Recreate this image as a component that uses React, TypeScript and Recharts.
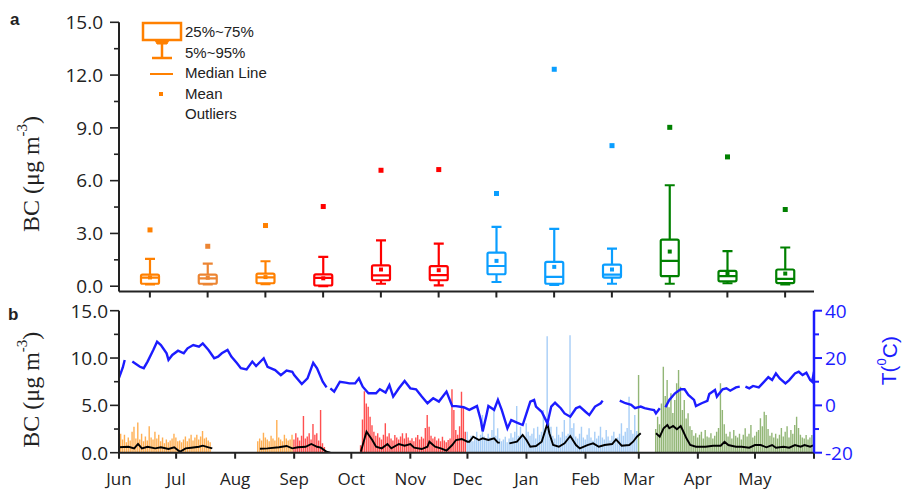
import React from "react";
import { Bar, Cell, ComposedChart, Legend, Line, XAxis, YAxis } from "recharts";

// ---- monthly box statistics (BC, µg m-3) ----
const months = ["Jun", "Jul", "Aug", "Sep", "Oct", "Nov", "Dec", "Jan", "Feb", "Mar", "Apr", "May"];
const p5 = [0.1, 0.1, 0.12, 0.0, 0.14, 0.05, 0.24, 0.07, 0.14, 0.14, 0.17, 0.1];
const p25 = [0.14, 0.14, 0.17, 0.04, 0.34, 0.34, 0.68, 0.14, 0.49, 0.57, 0.28, 0.18];
const medians = [0.49, 0.45, 0.5, 0.47, 0.62, 0.63, 1.15, 0.53, 0.66, 1.44, 0.57, 0.42];
const p75 = [0.66, 0.66, 0.72, 0.67, 1.19, 1.14, 1.91, 1.38, 1.23, 2.65, 0.87, 0.95];
const p95 = [1.55, 1.28, 1.42, 1.67, 2.61, 2.42, 3.37, 3.26, 2.14, 5.74, 1.99, 2.2];
const means = [0.5, 0.48, 0.52, 0.45, 0.95, 0.91, 1.44, 1.1, 0.95, 1.97, 0.72, 0.72];
const maxima = [3.2, 2.27, 3.45, 4.53, 6.59, 6.63, 5.27, 12.33, 7.99, 9.03, 7.35, 4.36];

const monthColors = ["#ff8000", "#ec8533", "#ff8000", "#ff0000", "#ff0000", "#ff0000", "#0a9eff", "#0a9eff", "#0a9eff", "#008000", "#008000", "#008000"];

const boxRows = months.map((month, i) => ({
  month,
  span: [p5[i], p95[i]],
  p5: p5[i],
  p25: p25[i],
  median: medians[i],
  p75: p75[i],
  p95: p95[i],
  mean: means[i],
  max: maxima[i],
}));

// ---- hourly BC peaks, one value per day, per continuous record ----
const bcJunJul = [1.2, 2.0, 1.4, 1.9, 1.1, 1.6, 1.3, 2.2, 2.75, 1.5, 3.2, 1.4, 2.0, 1.2, 1.7, 1.3, 2.8, 1.6, 1.4, 2.2, 1.5, 1.9, 1.2, 1.6, 1.0, 1.4, 1.1, 1.3, 1.5, 2.0, 1.6, 1.2, 1.3, 1.1, 1.4, 1.7, 1.2, 1.5, 1.9, 1.3, 1.6, 1.9, 1.4, 1.7, 2.3, 1.5, 1.6, 1.3, 1.1];
const bcAug = [1.2, 1.5, 1.3, 2.1, 1.6, 1.4, 1.2, 1.8, 1.5, 1.3, 3.45, 1.6, 1.4, 1.2, 1.9, 1.5, 1.3, 1.4, 1.9];
const bcSep = [1.4, 2.05, 1.6, 1.3, 1.8, 3.87, 1.5, 1.7, 2.05, 1.4, 3.03, 1.9, 2.05, 1.3, 4.5, 1.0, 0.6];
const bcOctNov = [0.8, 3.5, 6.5, 5.2, 4.86, 3.8, 2.9, 2.2, 1.8, 2.05, 1.6, 1.4, 1.9, 3.1, 1.7, 2.05, 1.5, 1.3, 1.87, 1.6, 1.4, 1.7, 2.05, 1.5, 2.05, 1.6, 1.3, 1.52, 1.2, 1.6, 1.87, 1.4, 1.69, 1.5, 2.6, 3.98, 2.75, 1.8, 1.5, 1.69, 1.3, 1.5, 1.2, 1.69, 1.3, 1.1, 1.34, 1.5, 6.69, 4.5, 2.4, 1.9, 2.8, 6.44, 4.86, 2.2];
const bcWinter = [2.2, 1.4, 1.8, 1.2, 1.6, 2.2, 1.5, 1.9, 3.98, 1.7, 1.4, 2.0, 1.6, 2.4, 4.5, 1.8, 2.58, 1.5, 1.2, 1.4, 1.69, 1.1, 1.5, 2.05, 1.6, 2.2, 4.93, 1.8, 2.75, 2.0, 1.6, 3.1, 2.2, 1.8, 2.0, 2.58, 1.5, 2.75, 1.9, 2.2, 4.5, 2.6, 12.3, 3.2, 2.75, 1.8, 1.5, 2.75, 1.9, 1.6, 2.2, 3.45, 1.8, 2.0, 12.4, 2.6, 3.1, 1.7, 1.5, 2.0, 2.75, 1.6, 1.4, 1.9, 2.58, 1.6, 1.3, 2.2, 1.5, 1.8, 2.75, 1.6, 1.4, 2.4, 1.7, 1.3, 1.8, 2.2, 1.5, 1.6, 2.0, 3.1, 1.8, 2.2, 2.6, 5.9, 2.4, 2.0, 3.98, 2.3];
const bcMarFirst = [8.2];
const bcSpring = [2.5, 3.8, 3.0, 5.2, 9.08, 6.0, 7.68, 4.8, 6.27, 4.2, 5.56, 7.33, 8.73, 6.97, 4.5, 5.56, 3.6, 4.16, 2.8, 2.4, 1.8, 2.05, 1.6, 1.9, 2.2, 1.5, 2.4, 1.7, 1.6, 2.05, 1.5, 1.8, 2.2, 2.6, 7.33, 4.5, 3.0, 2.0, 1.7, 2.2, 1.5, 2.4, 1.8, 1.6, 2.0, 1.4, 1.9, 2.58, 1.7, 2.0, 2.92, 1.6, 1.8, 2.2, 2.4, 3.63, 2.8, 4.33, 3.98, 2.5, 1.8, 2.1, 1.6, 2.0, 1.5, 1.9, 2.6, 1.7, 2.2, 2.8, 1.6, 2.4, 2.0, 2.92, 3.8, 2.6, 1.9, 1.6, 1.5, 1.87, 1.4, 1.6, 1.87];
const hourlySegments = [bcJunJul, bcAug, bcSep, bcOctNov, bcWinter, bcMarFirst, bcSpring];
const hourlyStartDays = [0, 73, 92, 127, 183, 273, 282];

// ---- daily mean BC, [day, value], one list per unbroken stretch ----
const meanSegments: [number, number][][] = [
  [[0, 0.57], [5, 0.63], [8, 0.46], [10, 0.92], [12, 0.46], [15, 0.63], [19, 0.46], [22, 0.57], [26, 0.39], [29, 0.57], [32, 0.1], [35, 0.46], [38, 0.53], [42, 0.63], [44, 0.74], [47, 0.57], [49, 0.46]],
  [[74, 0.42], [78, 0.46], [84, 0.57], [88, 0.71], [91, 0.46], [94, 0.57], [98, 0.63], [101, 0.92], [104, 0.63], [106, 0.53], [109, 0.1], [111, 0.0]],
  [[127, 0.1], [129, 1.52], [130, 2.22], [133, 1.34], [135, 0.63], [138, 0.46], [141, 0.92], [143, 0.46], [147, 0.92], [150, 0.74], [153, 0.92], [155, 0.53], [159, 0.39], [162, 0.63], [163, 1.16], [166, 0.63], [169, 0.46], [172, 0.21], [175, 0.81], [177, 1.34], [180, 1.45], [183, 1.16], [184, 1.16], [186, 1.69], [189, 1.34], [191, 1.52], [194, 1.34], [197, 1.52], [199, 1.06], [200, 1.06]],
  [[205, 0.99], [209, 1.16], [212, 1.87], [214, 1.34], [216, 0.63], [219, 0.71], [222, 1.16], [225, 3.1], [226, 2.05], [228, 0.81], [231, 0.63], [234, 0.99], [237, 1.76], [240, 0.81], [242, 0.46], [246, 0.81], [249, 0.99], [252, 0.63], [255, 0.81], [259, 0.92], [261, 1.41], [264, 0.74], [268, 0.81], [270, 1.16], [272, 1.69], [274, 2.05]],
  [[282, 2.05], [284, 1.69], [286, 2.58], [288, 2.92], [289, 2.58], [291, 2.82], [293, 2.47], [295, 2.82], [296, 2.4], [298, 1.52], [300, 0.81], [303, 0.63], [308, 0.63], [312, 0.74], [316, 0.74], [318, 1.16], [320, 0.81], [324, 0.63], [327, 0.63], [331, 0.53], [334, 0.81], [337, 0.81], [340, 0.57], [343, 0.81], [345, 0.53], [349, 0.63], [352, 0.53], [355, 0.81], [358, 0.63], [360, 0.81], [363, 0.63], [365, 0.81]],
];

// ---- air temperature (°C), [day, value], one list per unbroken stretch ----
const tempSegments: [number, number][][] = [
  [[0, 11.6], [2, 16], [3, 19.2]],
  [[7, 18.5], [11, 16.3], [13, 15.7], [15, 18.5], [18, 23.4], [20, 26.9], [22, 25.5], [25, 22.0], [26, 19.2], [28, 21.3], [31, 23.1], [34, 22.0], [36, 24.1], [39, 25.5], [42, 24.8], [44, 26.2], [47, 23.4], [50, 19.9], [52, 20.6], [54, 22], [57, 23.4], [59, 20.6], [62, 17.8], [64, 15.7], [67, 15.2], [70, 18.5], [72, 16.6], [76, 19.9], [78, 16.3], [82, 14.9], [85, 12.8], [88, 14.7], [91, 14.2], [92, 12.8], [96, 9.0], [99, 11.4], [102, 18.0], [104, 15.7], [107, 10], [109, 7.6]],
  [[111, 7.2], [113, 5.8], [116, 10], [119, 9.6], [121, 9.3], [124, 9.3], [126, 11.4], [128, 7.9], [131, 5.1], [135, 5.1], [137, 6.8], [140, 5.4], [142, 8.6], [144, 3.7], [147, 7.2], [150, 10.3], [153, 7.2], [156, 6.8], [159, 3.7], [162, 0.9], [165, 3.0], [168, 1.6], [172, 5.8], [175, -0.3], [177, -0.3], [181, -0.8], [184, -1.9], [188, -0.3], [190, -6.2], [191, -11], [193, -4.1], [194, -0.3], [197, -1.9], [199, 2.3], [201, -1.9], [204, -9.7], [206, -6.2], [209, -7.3], [212, -8.3], [214, -3.4], [216, 1.6], [218, 2.3], [219, -0.5], [222, -2.7], [225, -7.6], [227, -0.5], [229, 1.1], [232, -1.2], [234, -3.4], [237, -4.8], [240, -1.2], [242, -0.5], [245, -2.7], [247, -4.1], [250, -0.5], [253, 0.9], [254, 2.0]],
  [[263, 2.0], [266, 0.9], [269, 0.2], [271, -1.2], [274, -0.5], [276, -1.2], [279, -1.7], [281, -2.0], [282, -3.4], [284, -1.2]],
  [[287, -0.8], [289, 2.3], [292, 5.1], [295, 6.8], [297, 6.8], [299, 4.4], [302, 2.3], [303, -0.3], [306, 0.9], [309, 1.9], [310, 4.8], [313, 6.5], [314, 3.7], [317, 6.8], [319, 7.2], [321, 6.2], [324, 7.6], [326, 7.9]],
  [[329, 7.9], [331, 7.2], [333, 8.2], [336, 7.6], [338, 9.3], [341, 11.9], [343, 10.7], [345, 13.5], [347, 11.4], [350, 9.3], [352, 10.7], [355, 13.5], [357, 14.2], [359, 12.8], [361, 13.8], [363, 10.7], [364, 10.0], [365, 14.2]],
];

// ---- axes ----
const monthStartDays = [0, 30, 61, 92, 122, 153, 183, 214, 245, 273, 304, 334, 365];
const bcTicksTop = [0, 1.5, 3, 4.5, 6, 7.5, 9, 10.5, 12, 13.5, 15];
const bcTicksBottom = [0, 2.5, 5, 7.5, 10, 12.5, 15];
const tempTicks = [-20, -10, 0, 10, 20, 30, 40];

const seasonStartDays = [0, 92, 183, 273];
const seasonColors = ["#ff9419", "#ff1414", "#4f9ef0", "#4a861a"];
const seasonOpacity = [0.75, 0.75, 0.5, 0.6];
const seasonOf = (day: number) => seasonStartDays.filter((d) => day >= d).length - 1;

// one row per day, holding every series that has a value that day
const dayRows: Record<string, number>[] = Array.from({ length: 366 }, (_, day) => ({ day }));
hourlySegments.forEach((seg, k) =>
  seg.forEach((v, i) => {
    dayRows[hourlyStartDays[k] + i].bc = v;
  })
);
meanSegments.forEach((seg, k) =>
  seg.forEach(([d, v]) => {
    dayRows[d][`m${k}`] = v;
  })
);
tempSegments.forEach((seg, k) =>
  seg.forEach(([d, v]) => {
    dayRows[d][`t${k}`] = v;
  })
);

const tickFont = "'Open Sans', 'Liberation Sans', sans-serif";
const legendFont = "'Liberation Sans', Arial, sans-serif";
const serifFont = "'Liberation Serif', 'Times New Roman', serif";
const ink = "#222";
const tempBlue = "#1c1cff";

const isMajor = (v: number, step: number) => Math.abs(v / step - Math.round(v / step)) < 1e-6;

const leftTick = (step: number, gap: number) => (props: any) => {
  const { x, y, payload } = props;
  const major = isMajor(payload.value, step);
  return (
    <g>
      <line x1={x - (major ? 9 : 5)} x2={x} y1={y} y2={y} stroke={ink} strokeWidth={1.6} />
      {major && (
        <text x={x - gap} y={y} dy="0.36em" textAnchor="end" fontFamily={tickFont} fontSize={19} fill={ink}>
          {payload.value.toFixed(1)}
        </text>
      )}
    </g>
  );
};

const tempTick = (props: any) => {
  const { x, y, payload } = props;
  const major = isMajor(payload.value, 20);
  return (
    <g>
      <line x1={x} x2={x + (major ? 8 : 5)} y1={y} y2={y} stroke={tempBlue} strokeWidth={2} />
      {major && (
        <text x={x + 11} y={y} dy="0.36em" textAnchor="start" fontFamily={tickFont} fontSize={19} fill={tempBlue}>
          {payload.value}
        </text>
      )}
    </g>
  );
};

const boxTick = (props: any) => {
  const { x, y } = props;
  return <line x1={x} x2={x} y1={y} y2={y + 6} stroke={ink} strokeWidth={2} />;
};

const monthTick = (props: any) => {
  const { x, y, payload } = props;
  const idx = monthStartDays.indexOf(payload.value);
  return (
    <g>
      <line x1={x} x2={x} y1={y} y2={y + 6} stroke={ink} strokeWidth={2} />
      {idx < months.length && (
        <text x={x} y={y + 26} dy="0.36em" textAnchor="middle" fontFamily={tickFont} fontSize={17} fill={ink}>
          {months[idx]}
        </text>
      )}
    </g>
  );
};

const bcTitle = (shiftY: number) => (props: any) => {
  const vb = props.viewBox;
  const cx = vb.x + 31;
  const cy = vb.y + vb.height / 2 + shiftY;
  return (
    <text x={cx} y={cy} transform={`rotate(-90 ${cx} ${cy})`} textAnchor="middle" dominantBaseline="central" fontFamily={serifFont} fontSize={24} fill={ink}>
      BC (μg m<tspan dy={-9} fontSize={15}>-3</tspan>
      <tspan dy={9}>)</tspan>
    </text>
  );
};

const tempTitle = (props: any) => {
  const vb = props.viewBox;
  const cx = vb.x + 75;
  const cy = vb.y + 50;
  return (
    <text x={cx} y={cy} transform={`rotate(-90 ${cx} ${cy})`} textAnchor="middle" dominantBaseline="central" fontFamily={legendFont} fontSize={21} fill={tempBlue}>
      T(<tspan dy={-8} fontSize={13}>0</tspan>
      <tspan dy={8}>C)</tspan>
    </text>
  );
};

// box, whiskers, median, mean and max drawn from the bar's 5–95 % span
function BoxShape(props: any) {
  const { x, y, width, height, payload } = props;
  const lo = payload.p5;
  const hi = payload.p95;
  const py = (v: number) => y + (height * (hi - v)) / (hi - lo);
  const cx = x + width / 2;
  const color = monthColors[months.indexOf(payload.month)];
  const cap = 5;
  return (
    <g stroke={color} strokeWidth={2.2} fill="none">
      <line x1={cx} x2={cx} y1={py(hi)} y2={py(payload.p75)} />
      <line x1={cx} x2={cx} y1={py(payload.p25)} y2={py(lo)} />
      <line x1={cx - cap} x2={cx + cap} y1={py(hi)} y2={py(hi)} />
      <line x1={cx - cap} x2={cx + cap} y1={py(lo)} y2={py(lo)} />
      <rect x={x} y={py(payload.p75)} width={width} height={py(payload.p25) - py(payload.p75)} rx={1.5} />
      <line x1={x} x2={x + width} y1={py(payload.median)} y2={py(payload.median)} />
      <rect x={cx - 2} y={py(payload.mean) - 2} width={4} height={4} fill={color} stroke="none" />
      <rect x={cx - 2.5} y={py(payload.max) - 2.5} width={5} height={5} fill={color} stroke="none" />
    </g>
  );
}

const legendItems = ["25%~75%", "5%~95%", "Median Line", "Mean", "Outliers"];

const BoxLegend = () => (
  <svg width={170} height={110}>
    <g stroke="#ff8000" strokeWidth={2.5} fill="none">
      <rect x={5} y={5} width={38} height={17} />
      <path d="M17 22 L31 22 L29 26 L19 26 Z" fill="#ff8000" strokeWidth={1} />
      <line x1={24} x2={24} y1={26} y2={40} />
      <line x1={14} x2={34} y1={40} y2={40} />
      <line x1={12} x2={35} y1={56} y2={56} strokeWidth={2} />
    </g>
    <rect x={21} y={74} width={4} height={4} fill="#ff8000" />
    {legendItems.map((t, i) => (
      <text key={t} x={47} y={14 + i * 20.5} dy="0.36em" fontFamily={legendFont} fontSize={15} fill={ink}>
        {t}
      </text>
    ))}
  </svg>
);

export default function App() {
  return (
    <div style={{ position: "absolute", left: 0, top: 0, width: 903, height: 490, background: "#fff", overflow: "hidden" }}>
      <div style={{ position: "absolute", left: 0, top: 0 }}>
        <ComposedChart width={903} height={300} data={boxRows} margin={{ top: 22.3, right: 89, bottom: 0, left: 0 }}>
          <XAxis
            dataKey="month"
            type="category"
            height={8.5}
            padding={{ left: 2, right: 0 }}
            axisLine={{ stroke: ink, strokeWidth: 2 }}
            tickLine={false}
            tickSize={0}
            tickMargin={0}
            tick={boxTick}
            interval={0}
          />
          <YAxis
            type="number"
            domain={[-0.3, 15]}
            ticks={bcTicksTop}
            width={119}
            allowDataOverflow
            axisLine={{ stroke: ink, strokeWidth: 2 }}
            tickLine={false}
            tickSize={0}
            tickMargin={0}
            tick={leftTick(3, 16)}
            interval={0}
            label={{ content: bcTitle(17) }}
          />
          <Legend layout="horizontal" verticalAlign="middle" align="center" content={BoxLegend} wrapperStyle={{ left: 138, top: 18, width: 170, height: 110 }} />
          <Bar dataKey="span" barSize={18} shape={BoxShape} isAnimationActive={false} legendType="none" />
        </ComposedChart>
      </div>

      <div style={{ position: "absolute", left: 0, top: 290 }}>
        <ComposedChart width={903} height={200} data={dayRows} margin={{ top: 20.7, right: 0, bottom: 0, left: 0 }}>
          <XAxis
            dataKey="day"
            type="number"
            domain={[0, 365]}
            ticks={monthStartDays}
            height={37.3}
            allowDataOverflow
            axisLine={{ stroke: ink, strokeWidth: 2 }}
            tickLine={false}
            tickSize={0}
            tickMargin={0}
            tick={monthTick}
            interval={0}
          />
          <YAxis
            yAxisId="bc"
            type="number"
            domain={[0, 15]}
            ticks={bcTicksBottom}
            width={119}
            allowDataOverflow
            axisLine={{ stroke: ink, strokeWidth: 2 }}
            tickLine={false}
            tickSize={0}
            tickMargin={0}
            tick={leftTick(5, 11)}
            interval={0}
            label={{ content: bcTitle(8) }}
          />
          <YAxis
            yAxisId="t"
            orientation="right"
            type="number"
            domain={[-20, 40]}
            ticks={tempTicks}
            width={89}
            allowDataOverflow
            axisLine={{ stroke: tempBlue, strokeWidth: 2.5 }}
            tickLine={false}
            tickSize={0}
            tickMargin={0}
            tick={tempTick}
            interval={0}
            label={{ content: tempTitle }}
          />
          <Bar yAxisId="bc" dataKey="bc" barSize={1.4} isAnimationActive={false}>
            {dayRows.map((r) => (
              <Cell key={r.day} fill={seasonColors[seasonOf(r.day)]} fillOpacity={seasonOpacity[seasonOf(r.day)]} />
            ))}
          </Bar>
          {meanSegments.map((_, k) => (
            <Line key={`m${k}`} yAxisId="bc" dataKey={`m${k}`} type="linear" stroke="#000" strokeWidth={1.9} dot={false} connectNulls isAnimationActive={false} />
          ))}
          {tempSegments.map((_, k) => (
            <Line key={`t${k}`} yAxisId="t" dataKey={`t${k}`} type="linear" stroke={tempBlue} strokeWidth={2.4} dot={false} connectNulls isAnimationActive={false} />
          ))}
        </ComposedChart>
      </div>

      <div style={{ position: "absolute", left: 10, top: 10.6, fontFamily: legendFont, fontWeight: 700, fontSize: 17, lineHeight: "17px", color: ink }}>a</div>
      <div style={{ position: "absolute", left: 8, top: 305.6, fontFamily: legendFont, fontWeight: 700, fontSize: 17, lineHeight: "17px", color: ink }}>b</div>
    </div>
  );
}
